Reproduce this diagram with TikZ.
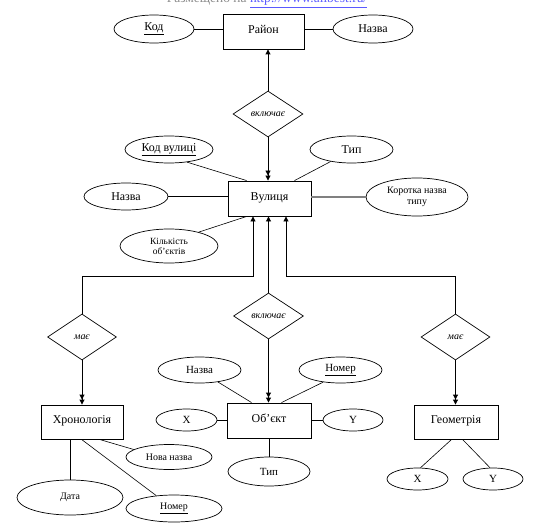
\documentclass[tikz,border=0pt]{standalone}
\usepackage{fontspec}
\setmainfont{Liberation Serif}
\usetikzlibrary{shapes.geometric,arrows.meta}
\definecolor{hdrgray}{RGB}{140,140,140}
\definecolor{hdrblue}{RGB}{90,90,255}
\begin{document}
\begin{tikzpicture}[x=1bp,y=-1bp,
 ent/.style={draw,line width=0.9bp,inner sep=0,font=\fontsize{12}{14}\selectfont},
 attr/.style={ellipse,draw,line width=0.7bp,inner sep=0,font=\fontsize{12}{14}\selectfont},
 sattr/.style={attr,font=\fontsize{10}{11.5}\selectfont,align=center},
 rel/.style={diamond,draw,line width=0.7bp,inner sep=0,minimum width=70bp,minimum height=46bp,font=\fontsize{10}{12}\selectfont\itshape},
 link/.style={line width=0.9bp},
 alink/.style={line width=0.6bp},
 one/.style={line width=0.9bp,-{Triangle[width=5bp,length=5bp]}},
 many/.style={line width=0.9bp,-{Triangle[width=5bp,length=5bp]Triangle[width=5bp,length=5bp]}},
]
\useasboundingbox (0,0) rectangle (534,531);
\begin{scope}
\clip (0,0) rectangle (534,531);
\node[anchor=base,inner sep=0,font=\fontsize{13.5}{15}\selectfont] (hdr) at (267,3)
 {\textcolor{hdrgray}{Размещено на }\textcolor{hdrblue}{\underline{http://www.allbest.ru/}}};
\end{scope}

% entities
\node[ent,minimum width=81bp,minimum height=35bp] (rayon) at (263.5,31.5) {\raisebox{4bp}{Район}};
\node[ent,minimum width=83bp,minimum height=35bp] (vul) at (269.5,198.5) {\raisebox{4bp}{Вулиця}};
\node[ent,minimum width=82bp,minimum height=34bp] (chron) at (82,422) {\raisebox{4bp}{Хронологія}};
\node[ent,minimum width=84bp,minimum height=35bp] (obj) at (269,420.5) {\raisebox{4bp}{Об’єкт}};
\node[ent,minimum width=84bp,minimum height=34bp] (geom) at (456,422) {\raisebox{4bp}{Геометрія}};

% relationships
\node[rel] (d1) at (268,114) {включає};
\node[rel,minimum width=69bp] (d2) at (82,337) {має};
\node[rel] (d3) at (268.5,316) {включає};
\node[rel,minimum width=69bp] (d4) at (455.5,337) {має};

% attributes
\node[attr,minimum width=80bp,minimum height=28bp] (kod) at (154,29) {\underline{Код}};
\node[attr,minimum width=80bp,minimum height=28bp] (nazva1) at (373,29) {Назва};
\node[attr,minimum width=88bp,minimum height=27bp] (kodvul) at (169,149.5) {\underline{Код вулиці}};
\node[attr,minimum width=84bp,minimum height=27bp] (nazva2) at (126,196.5) {Назва};
\node[sattr,minimum width=98bp,minimum height=34bp,font=\fontsize{9.5}{10}\selectfont] (kilk) at (169,246) {Кількість\\об’єктів};
\node[attr,minimum width=83bp,minimum height=27bp] (typ1) at (351.5,149.5) {Тип};
\node[sattr,minimum width=102bp,minimum height=38bp] (korot) at (417,197) {Коротка назва\\типу};
\node[sattr,minimum width=106bp,minimum height=35bp] (data) at (70,497.5) {Дата};
\node[sattr,minimum width=86bp,minimum height=25bp] (novan) at (169,457) {Нова назва};
\node[sattr,minimum width=96bp,minimum height=27bp] (nomer1) at (174,508.5) {\underline{Номер}};
\node[sattr,minimum width=83bp,minimum height=26bp,font=\fontsize{11}{12}\selectfont] (nazva3) at (199.5,370) {Назва};
\node[sattr,minimum width=83bp,minimum height=26bp,font=\fontsize{11}{12}\selectfont] (nomer2) at (340.5,370) {\underline{Номер}};
\node[sattr,minimum width=61bp,minimum height=22bp,font=\fontsize{11}{12}\selectfont] (x1) at (186.5,420) {X};
\node[sattr,minimum width=60bp,minimum height=22bp,font=\fontsize{11}{12}\selectfont] (y1) at (353,420) {Y};
\node[sattr,minimum width=82bp,minimum height=29bp,font=\fontsize{11}{12}\selectfont] (typ2) at (269,471.5) {Тип};
\node[sattr,minimum width=61bp,minimum height=22bp,font=\fontsize{11}{12}\selectfont] (x2) at (417.5,479) {X};
\node[sattr,minimum width=60bp,minimum height=22bp,font=\fontsize{11}{12}\selectfont] (y2) at (493,479) {Y};

\coordinate (cL) at (253,276);
\coordinate (cR) at (286,276);

% relationship connectors
\draw[one] (d1.north) -- (d1.north |- rayon.south);
\draw[many] (d1.south) -- (d1.south |- vul.north);
\draw[one] (d2.north) |- (cL) -- (cL |- vul.south);
\draw[many] (d2.south) -- (d2.south |- chron.north);
\draw[one] (d3.north) -- (d3.north |- vul.south);
\draw[many] (d3.south) -- (d3.south |- obj.north);
\draw[one] (d4.north) |- (cR) -- (cR |- vul.south);
\draw[many] (d4.south) -- (d4.south |- geom.north);

% attribute connectors
\draw[link] (kod.east) -- (kod.east -| rayon.west);
\draw[link] (nazva1.west -| rayon.east) -- (nazva1.west);
\draw[alink] (kodvul.-35) -- ([xshift=19bp]vul.north west);
\draw[alink] (typ1.-150) -- ([xshift=67bp]vul.north west);
\draw[link] (nazva2.east) -- (nazva2.east -| vul.west);
\draw[alink] (kilk.25) -- ([xshift=19bp]vul.south west);
\draw[line width=1.3bp,gray] (korot.west -| vul.east) -- (korot.west);
\draw[link] (data.north |- chron.south) -- (data.north);
\draw[alink] ([xshift=59bp]chron.south west) -- (novan.168);
\draw[alink] ([xshift=41bp]chron.south west) -- (nomer1.144);
\draw[alink] (nazva3.-33) -- ([xshift=25bp]obj.north west);
\draw[alink] (nomer2.-145) -- ([xshift=55bp]obj.north west);
\draw[link] (x1.east) -- (x1.east -| obj.west);
\draw[link] (obj.east |- y1.west) -- (y1.west);
\draw[link] (obj.south) -- (typ2.north);
\draw[alink] ([xshift=38bp]geom.south west) -- (x2.75);
\draw[alink] ([xshift=49bp]geom.south west) -- (y2.105);
\end{tikzpicture}
\end{document}
